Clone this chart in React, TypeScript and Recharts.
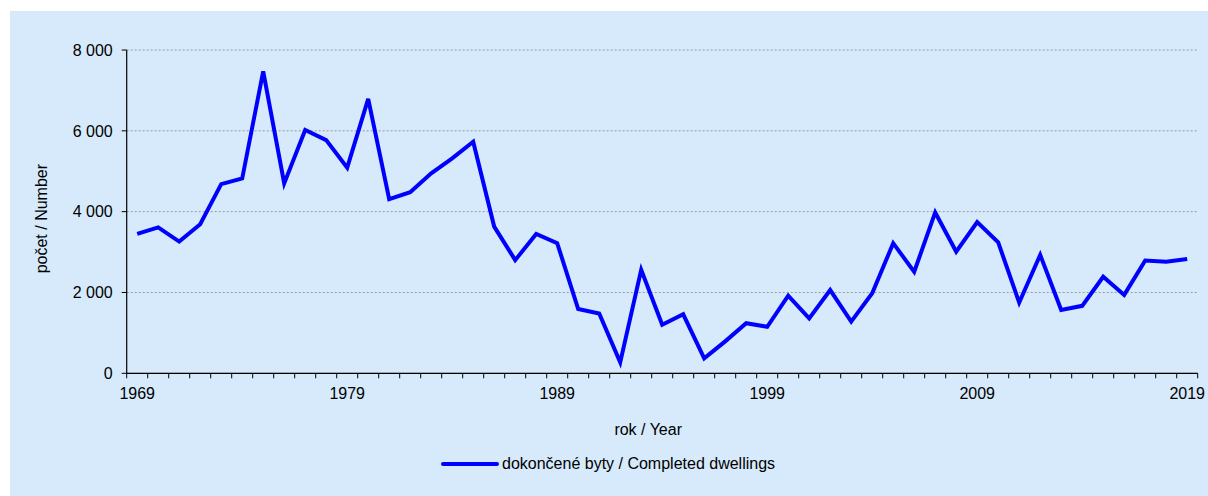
import React from 'react';
import { LineChart, Line, XAxis, YAxis, CartesianGrid, Legend, Label } from 'recharts';

const years: number[] = [
  1969, 1970, 1971, 1972, 1973, 1974, 1975, 1976, 1977, 1978,
  1979, 1980, 1981, 1982, 1983, 1984, 1985, 1986, 1987, 1988,
  1989, 1990, 1991, 1992, 1993, 1994, 1995, 1996, 1997, 1998,
  1999, 2000, 2001, 2002, 2003, 2004, 2005, 2006, 2007, 2008,
  2009, 2010, 2011, 2012, 2013, 2014, 2015, 2016, 2017, 2018, 2019,
];

const completed: number[] = [
  3450, 3610, 3260, 3690, 4680, 4820, 7470, 4700, 6020, 5770,
  5090, 6790, 4310, 4480, 4950, 5320, 5730, 3630, 2800, 3450,
  3220, 1590, 1480, 270, 2560, 1200, 1460, 370, 790, 1240,
  1150, 1920, 1360, 2060, 1280, 1980, 3220, 2510, 3980, 3010,
  3740, 3240, 1750, 2930, 1570, 1670, 2390, 1940, 2790, 2760, 2830,
];

const xLabelYears: number[] = [1969, 1979, 1989, 1999, 2009, 2019];
const yTicks: number[] = [0, 2000, 4000, 6000, 8000];

const seriesName = 'dokončené byty / Completed dwellings';
const xTitle = 'rok / Year';
const yTitle = 'počet / Number';

const data = years.map((year, i) => ({ year, value: completed[i] }));

// tick positions: category boundaries (half years) carry tick marks, centres carry labels
const xTicks: number[] = [];
years.forEach((y) => {
  xTicks.push(y - 0.5);
  xTicks.push(y);
});
xTicks.push(years[years.length - 1] + 0.5);

const FONT = '"Liberation Sans", Arial, sans-serif';
const BG = '#D6EAFB';

const fmt = (v: number) => {
  const s = String(Math.round(v));
  return s.replace(/\B(?=(\d{3})+(?!\d))/g, ' ');
};

const XTick = (props: any) => {
  const { x, y, payload } = props;
  const v = payload.value as number;
  if (Number.isInteger(v)) {
    if (!xLabelYears.includes(v)) return <g />;
    return (
      <text x={x} y={y + 26} textAnchor="middle" fill="#000" fontSize={16} fontFamily={FONT}>
        {v}
      </text>
    );
  }
  return <line x1={x} y1={y} x2={x} y2={y + 5} stroke="#000" strokeWidth={1} />;
};

const LegendContent = (props: any) => {
  const p = (props.payload || [])[0] || { value: seriesName, color: '#0000FF' };
  return (
    <div style={{ display: 'flex', alignItems: 'center', height: 22, fontFamily: FONT, fontSize: 16, color: '#000', whiteSpace: 'nowrap' }}>
      <svg width={58} height={8} style={{ display: 'block' }}>
        <line x1={2} y1={4} x2={56} y2={4} stroke={p.color} strokeWidth={4} strokeLinecap="round" />
      </svg>
      <span style={{ marginLeft: 3 }}>{p.value}</span>
    </div>
  );
};

export default function App() {
  return (
    <div style={{ position: 'fixed', left: 10, top: 11, width: 1198, height: 485, background: BG }}>
      <LineChart
        width={1198}
        height={485}
        data={data}
        margin={{ top: 39, right: 10.3, bottom: 82.7, left: 0 }}
      >
        <CartesianGrid vertical={false} stroke="#9a9a9a" strokeDasharray="2 2" />
        <XAxis
          dataKey="year"
          type="number"
          domain={[years[0] - 0.5, years[years.length - 1] + 0.5]}
          ticks={xTicks}
          interval={0}
          tick={<XTick />}
          tickLine={false}
          tickSize={0}
          tickMargin={0}
          height={40}
          axisLine={{ stroke: '#000', strokeWidth: 1.2 }}
          allowDataOverflow
        >
          <Label
            content={(lp: any) => {
              const vb = lp.viewBox || { x: 116.7, y: 362.3, width: 1071, height: 40 };
              return (
                <text
                  x={vb.x + vb.width / 2 - 14}
                  y={vb.y + 61.5}
                  textAnchor="middle"
                  fill="#000"
                  fontSize={16}
                  fontFamily={FONT}
                >
                  {xTitle}
                </text>
              );
            }}
          />
        </XAxis>
        <YAxis
          type="number"
          domain={[0, 8000]}
          ticks={yTicks}
          interval={0}
          width={116.7}
          tickFormatter={fmt}
          tickSize={5}
          tickMargin={9}
          tick={{ fill: '#000', fontSize: 16, fontFamily: FONT }}
          tickLine={{ stroke: '#000' }}
          axisLine={{ stroke: '#000', strokeWidth: 1.2 }}
        >
          <Label
            content={(lp: any) => {
              const vb = lp.viewBox || { x: 0, y: 39, width: 116.7, height: 323.3 };
              const cx = vb.x + 31.5;
              const cy = vb.y + vb.height / 2 + 7;
              return (
                <text
                  x={cx}
                  y={cy}
                  dy="0.355em"
                  textAnchor="middle"
                  fill="#000"
                  fontSize={16}
                  fontFamily={FONT}
                  transform={`rotate(-90, ${cx}, ${cy})`}
                >
                  {yTitle}
                </text>
              );
            }}
          />
        </YAxis>
        <Legend
          layout="horizontal"
          verticalAlign="middle"
          align="center"
          content={<LegendContent />}
          wrapperStyle={{ left: 431, top: 442, width: 420, height: 22, margin: 0 }}
        />
        <Line
          type="linear"
          dataKey="value"
          name={seriesName}
          stroke="#0000FF"
          strokeWidth={4}
          dot={false}
          activeDot={false}
          isAnimationActive={false}
        />
      </LineChart>
    </div>
  );
}
